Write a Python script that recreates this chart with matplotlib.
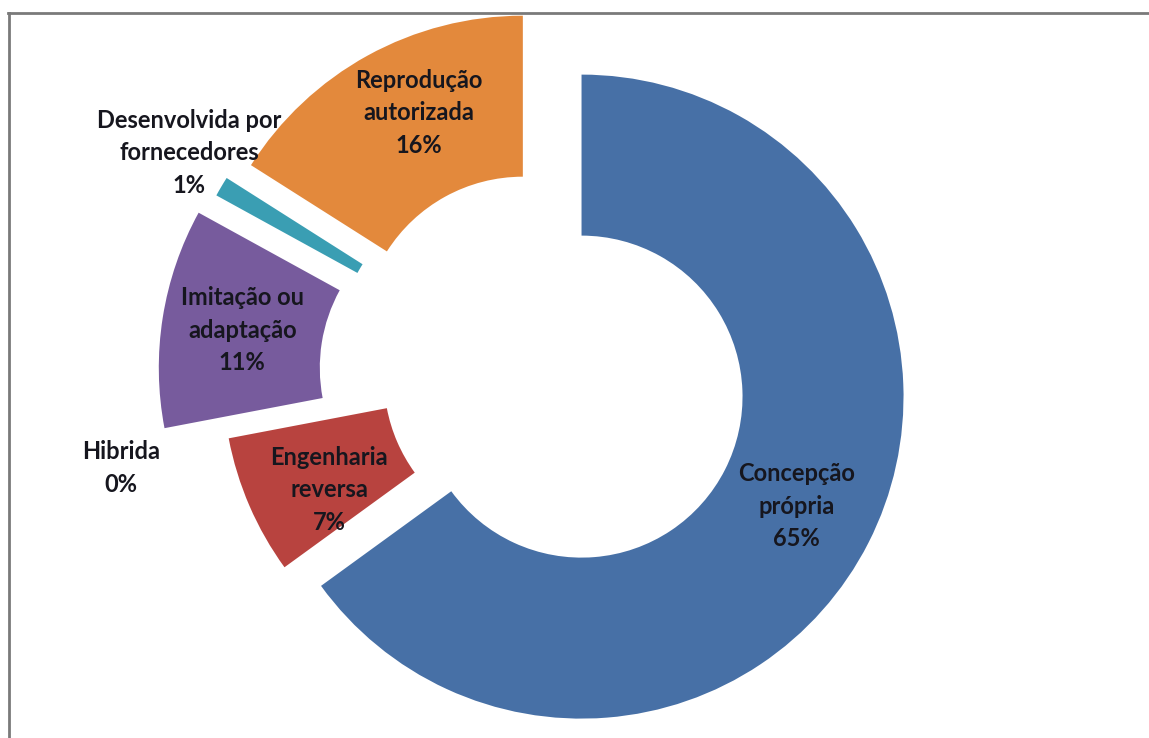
import matplotlib
matplotlib.use("Agg")
import matplotlib.pyplot as plt
from matplotlib.lines import Line2D
import numpy as np

# Origem do projeto de produto (% das empresas)
categories = [
    "Concepção\nprópria",
    "Engenharia\nreversa",
    "Hibrida",
    "Imitação ou\nadaptação",
    "Desenvolvida por\nfornecedores",
    "Reprodução\nautorizada",
]
shares = [65, 7, 0, 11, 1, 16]

colors = ["#4770A6", "#B8433F", "#9BBB59", "#775B9D", "#3A9EB3", "#E3893C"]
# displacement of each slice away from the centre (pixels)
explode_px = [41, 0, 0, 65, 54, 46]
# label placement: distance as a multiple of the outer radius, and a small
# angular nudge (degrees) from the slice's mid angle
label_dist = [0.75, 0.755, 1.345, 0.75, 1.14, 0.77]
label_nudge = [0, 4, 1.2, 0, -2, -4]

W, H = 1149, 738
fig = plt.figure(figsize=(W / 100, H / 100), dpi=100)
fig.patch.set_facecolor("white")
ax = fig.add_axes([0, 0, 1, 1])

radius = 322
ring = 161
cx, cy = 545, H - 378

wedges, _ = ax.pie(
    shares,
    colors=colors,
    explode=explode_px,
    startangle=90,
    counterclock=False,
    radius=radius,
    center=(cx, cy),
    wedgeprops=dict(width=ring, linewidth=0),
    normalize=True,
)

ax.set_xlim(0, W)
ax.set_ylim(0, H)
ax.set_aspect("equal")
ax.axis("off")

font = dict(family=["Lato", "DejaVu Sans"], fontweight="bold", fontsize=17,
            color="#16161e")
for w, name, val, dist, nudge in zip(wedges, categories, shares,
                                     label_dist, label_nudge):
    mid = np.deg2rad((w.theta1 + w.theta2) / 2 + nudge)
    x0, y0 = w.center
    tx = x0 + dist * w.r * np.cos(mid)
    ty = y0 + dist * w.r * np.sin(mid)
    ax.text(tx, ty, f"{name}\n{val}%", ha="center", va="center",
            multialignment="center", linespacing=1.5, **font)

# chart frame (top and left edges)
frame_kw = dict(color="#7a7a7a", linewidth=2.0, transform=fig.transFigure)
fig.add_artist(Line2D([8 / W, 1.0], [1 - 12.5 / H, 1 - 12.5 / H], **frame_kw))
fig.add_artist(Line2D([8.5 / W, 8.5 / W], [0.0, 1 - 12.5 / H], **frame_kw))

fig.savefig("out.png", dpi=100, facecolor="white")
